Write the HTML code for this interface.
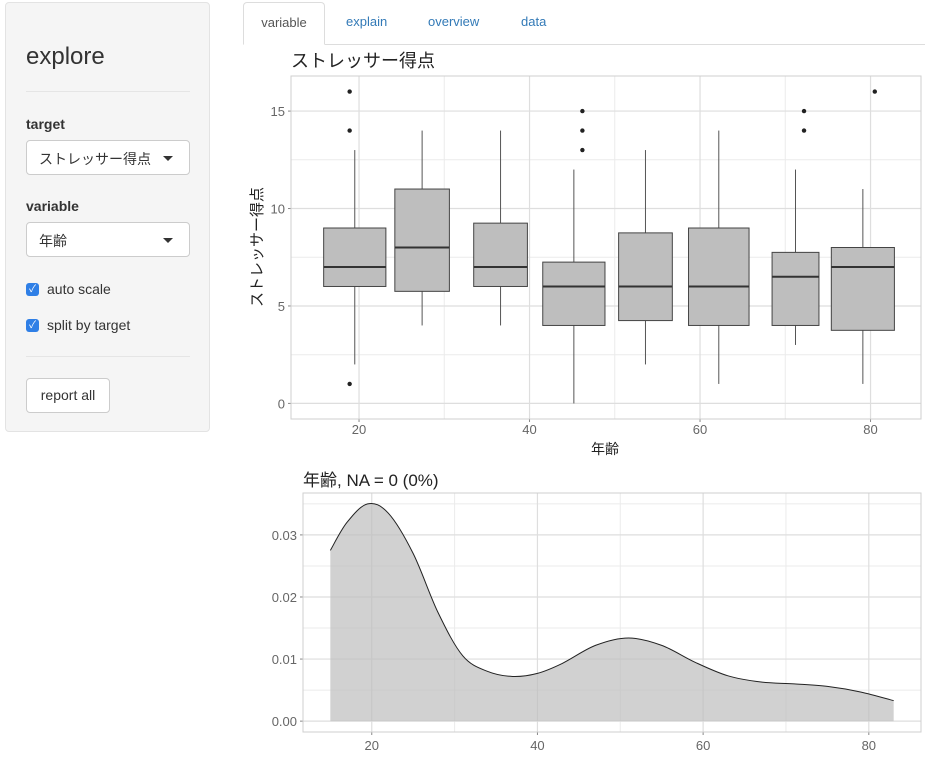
<!DOCTYPE html>
<html><head><meta charset="utf-8">
<style>
body{margin:0;width:937px;height:757px;background:#fff;font-family:"Liberation Sans","Noto Sans CJK JP",sans-serif;color:#333;position:relative;overflow:hidden}
.side{position:absolute;left:5px;top:2px;width:205px;height:430px;background:#f5f5f5;border:1px solid #e3e3e3;border-radius:4px;box-sizing:border-box}
.abs{position:absolute}
.sel{position:absolute;left:20px;width:164px;height:35px;background:#fff;border:1px solid #ccc;border-radius:4px;box-sizing:border-box;font-size:14px;padding:8px 12px}
.caret{position:absolute;right:16px;top:15px;border-left:5px solid transparent;border-right:5px solid transparent;border-top:5px solid #333}
.hr{position:absolute;left:20px;width:164px;border-top:1px solid #e5e5e5}
.cb{position:absolute;left:20px;width:13px;height:13px;background:#2f7fe6;border-radius:3px;color:#fff;font-size:10px;line-height:13px;text-align:center}
.lbl{position:absolute;left:41px;font-size:14px}
.tab{position:absolute;top:14px;font-size:13px;color:#337ab7}
</style></head><body>
<div class="side">
  <div class="abs" style="left:20px;top:40px;font-size:24px;color:#333">explore</div>
  <div class="hr" style="top:88px"></div>
  <div class="abs" style="left:20px;top:113px;font-size:14px;font-weight:bold">target</div>
  <div class="sel" style="top:137px">ストレッサー得点<span class="caret"></span></div>
  <div class="abs" style="left:20px;top:195px;font-size:14px;font-weight:bold">variable</div>
  <div class="sel" style="top:219px">年齢<span class="caret"></span></div>
  <div class="cb" style="top:280px">✓</div>
  <div class="lbl" style="top:278px">auto scale</div>
  <div class="cb" style="top:316px">✓</div>
  <div class="lbl" style="top:314px">split by target</div>
  <div class="hr" style="top:353px"></div>
  <div class="abs" style="left:20px;top:375px;width:84px;height:35px;background:#fff;border:1px solid #ccc;border-radius:4px;box-sizing:border-box;font-size:14px;text-align:center;line-height:33px">report all</div>
</div>
<div class="abs" style="left:243px;top:44px;width:682px;border-top:1px solid #ddd"></div>
<div class="abs" style="left:243px;top:2px;width:82px;height:43px;border:1px solid #ddd;border-bottom:1px solid #fff;border-radius:4px 4px 0 0;box-sizing:border-box;background:#fff;font-size:13px;color:#555;text-align:center;line-height:40px">variable</div>
<div class="tab" style="left:346px">explain</div>
<div class="tab" style="left:428px">overview</div>
<div class="tab" style="left:521px">data</div>
<svg id="chart" class="abs" style="left:0;top:0" width="937" height="757"></svg>
<script>
const ages=[19.5,27.4,36.6,45.2,53.6,62.2,71.2,79.1];
const widths=[7.3,6.4,6.3,7.3,6.3,7.1,5.5,7.4];
const whiskerLow=[2,4,4,0,2,1,3,1];
const q1=[6,5.75,6,4,4.25,4,4,3.75];
const med=[7,8,7,6,6,6,6.5,7];
const q3=[9,11,9.25,7.25,8.75,9,7.75,8];
const whiskerHigh=[13,14,14,12,13,14,12,11];
const outlierAge=[18.9,18.9,18.9,46.2,46.2,46.2,72.2,72.2,80.5];
const outlierVal=[16,14,1,15,14,13,15,14,16];
const yTicks=[0,5,10,15];
const xTicks=[20,40,60,80];
const densAge=[15,17,19.5,22,25,28,31,34,37,40,43,47,51,55,59,63,67,71,75,79,83];
const densVal=[0.0275,0.032,0.035,0.0335,0.027,0.0175,0.0105,0.008,0.0072,0.0077,0.0093,0.0122,0.0134,0.0122,0.0095,0.0073,0.0063,0.006,0.0056,0.0047,0.0033];
const dTicks=[0,0.01,0.02,0.03];
const NS="http://www.w3.org/2000/svg";
const svg=document.getElementById('chart');
function mk(t,a,p){const e=document.createElementNS(NS,t);for(const k in a)e.setAttribute(k,a[k]);(p||svg).appendChild(e);return e;}
const B={l:291,r:921,t:76,b:419,x0:12.02,x1:85.92,y0:-0.8,y1:16.8};
const bx=v=>B.l+(v-B.x0)/(B.x1-B.x0)*(B.r-B.l);
const by=v=>B.b-(v-B.y0)/(B.y1-B.y0)*(B.b-B.t);
const g1=mk('g',{});


[30,50,70].forEach(v=>mk('line',{x1:bx(v),x2:bx(v),y1:B.t,y2:B.b,stroke:'#ebebeb','stroke-width':1},g1));
[2.5,7.5,12.5].forEach(v=>mk('line',{x1:B.l,x2:B.r,y1:by(v),y2:by(v),stroke:'#ebebeb','stroke-width':1},g1));
xTicks.forEach(v=>{mk('line',{x1:bx(v),x2:bx(v),y1:B.t,y2:B.b,stroke:'#dedede','stroke-width':1.2},g1);mk('line',{x1:bx(v),x2:bx(v),y1:B.b,y2:B.b+3,stroke:'#888'},g1);const t=mk('text',{x:bx(v),y:B.b+15,'text-anchor':'middle','font-size':13,fill:'#666'},g1);t.textContent=v;});
yTicks.forEach(v=>{mk('line',{x1:B.l,x2:B.r,y1:by(v),y2:by(v),stroke:'#dedede','stroke-width':1.2},g1);mk('line',{x1:B.l-3,x2:B.l,y1:by(v),y2:by(v),stroke:'#888'},g1);const t=mk('text',{x:B.l-6,y:by(v)+5,'text-anchor':'end','font-size':13,fill:'#666'},g1);t.textContent=v;});
mk('rect',{x:B.l,y:B.t,width:B.r-B.l,height:B.b-B.t,fill:'none',stroke:'#cfcfcf'},g1);
ages.forEach((a,i)=>{
  const g=mk('g',{},g1);
  
  
  mk('line',{x1:bx(a),x2:bx(a),y1:by(whiskerLow[i]),y2:by(q1[i]),stroke:'#555'},g);
  mk('line',{x1:bx(a),x2:bx(a),y1:by(q3[i]),y2:by(whiskerHigh[i]),stroke:'#555'},g);
  mk('rect',{x:bx(a-widths[i]/2),y:by(q3[i]),width:bx(a+widths[i]/2)-bx(a-widths[i]/2),height:by(q1[i])-by(q3[i]),fill:'#bebebe',stroke:'#444'},g);
  mk('line',{x1:bx(a-widths[i]/2),x2:bx(a+widths[i]/2),y1:by(med[i]),y2:by(med[i]),stroke:'#333','stroke-width':2},g);
});
outlierAge.forEach((a,i)=>{const c=mk('circle',{cx:bx(a),cy:by(outlierVal[i]),r:2.2,fill:'#222'},g1);});
let t=mk('text',{x:291,y:67,'font-size':18,fill:'#222'},g1);t.textContent='ストレッサー得点';
t=mk('text',{x:605,y:454,'text-anchor':'middle','font-size':14,fill:'#222'},g1);t.textContent='年齢';
t=mk('text',{x:0,y:0,'text-anchor':'middle','font-size':15,fill:'#222',transform:'translate(262,247) rotate(-90)'},g1);t.textContent='ストレッサー得点';
const D={l:303,r:921,t:493,b:732,x0:11.7,x1:86.3,y0:-0.00175,y1:0.03675};
const dx=v=>D.l+(v-D.x0)/(D.x1-D.x0)*(D.r-D.l);
const dy=v=>D.b-(v-D.y0)/(D.y1-D.y0)*(D.b-D.t);
const g2=mk('g',{});


[30,50,70].forEach(v=>mk('line',{x1:dx(v),x2:dx(v),y1:D.t,y2:D.b,stroke:'#ebebeb'},g2));
[0.005,0.015,0.025,0.035].forEach(v=>mk('line',{x1:D.l,x2:D.r,y1:dy(v),y2:dy(v),stroke:'#ebebeb'},g2));
xTicks.forEach(v=>{mk('line',{x1:dx(v),x2:dx(v),y1:D.t,y2:D.b,stroke:'#dedede','stroke-width':1.2},g2);mk('line',{x1:dx(v),x2:dx(v),y1:D.b,y2:D.b+3,stroke:'#888'},g2);const t=mk('text',{x:dx(v),y:D.b+18,'text-anchor':'middle','font-size':13,fill:'#666'},g2);t.textContent=v;});
dTicks.forEach(v=>{mk('line',{x1:D.l,x2:D.r,y1:dy(v),y2:dy(v),stroke:'#dedede','stroke-width':1.2},g2);mk('line',{x1:D.l-3,x2:D.l,y1:dy(v),y2:dy(v),stroke:'#888'},g2);const t=mk('text',{x:D.l-6,y:dy(v)+5,'text-anchor':'end','font-size':13,fill:'#666'},g2);t.textContent=v.toFixed(2);});
mk('rect',{x:D.l,y:D.t,width:D.r-D.l,height:D.b-D.t,fill:'none',stroke:'#cfcfcf'},g2);
function curve(){let s='M'+dx(densAge[0])+','+dy(densVal[0]);for(let i=0;i<densAge.length-1;i++){const p0=i>0?i-1:i,p3=i+2<densAge.length?i+2:i+1;const x0=dx(densAge[p0]),y0=dy(densVal[p0]),x1=dx(densAge[i]),y1=dy(densVal[i]),x2=dx(densAge[i+1]),y2=dy(densVal[i+1]),x3=dx(densAge[p3]),y3=dy(densVal[p3]);s+=' C'+(x1+(x2-x0)/6)+','+(y1+(y2-y0)/6)+' '+(x2-(x3-x1)/6)+','+(y2-(y3-y1)/6)+' '+x2+','+y2;}return s;}
const c=curve();
const area=mk('path',{d:c+' L'+dx(densAge[densAge.length-1])+','+dy(0)+' L'+dx(densAge[0])+','+dy(0)+' Z',fill:'#bebebe','fill-opacity':0.7,stroke:'none'},g2);


const ln=mk('path',{d:c,fill:'none',stroke:'#222','stroke-width':1},g2);


t=mk('text',{x:303,y:486,'font-size':17,fill:'#222'},g2);t.textContent='年齢, NA = 0 (0%)';
</script>
</body></html>
